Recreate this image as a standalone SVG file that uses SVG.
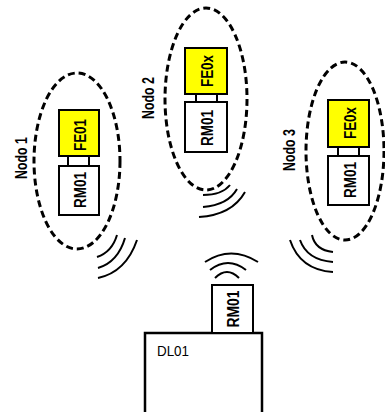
<svg xmlns="http://www.w3.org/2000/svg" width="385" height="412" viewBox="0 0 385 412">
<style>
.bg{fill:#fff}
.ell{fill:none;stroke:#000;stroke-width:3;stroke-dasharray:7 4}
.box{fill:#fff;stroke:#000;stroke-width:2}
.fe{fill:#ffff00;stroke:#000;stroke-width:2}
.wave{fill:none;stroke:#000;stroke-width:2}
.lbl{font-family:"Liberation Sans",Arial,sans-serif;font-weight:bold;font-size:16px;fill:#000;text-anchor:middle}
.dl{font-family:"Liberation Sans",Arial,sans-serif;font-size:15px;fill:#000}
</style>
<rect class="bg" width="385" height="412"/>
<g id="nodo1">
<ellipse class="ell" cx="77" cy="161" rx="43" ry="88"/>
<rect class="fe" x="59" y="110" width="40" height="46"/>
<rect class="box" x="68" y="156" width="21" height="10"/>
<rect class="box" x="59" y="166" width="40" height="49"/>
<text class="lbl" transform="translate(80,135) rotate(-90)" y="6" textLength="32" lengthAdjust="spacingAndGlyphs">FE01</text>
<text class="lbl" transform="translate(80,190) rotate(-90)" y="6" textLength="36" lengthAdjust="spacingAndGlyphs">RM01</text>
<text class="lbl" transform="translate(21,158) rotate(-90)" y="6" textLength="42" lengthAdjust="spacingAndGlyphs">Nodo 1</text>
</g>
<g id="nodo2">
<ellipse class="ell" cx="206" cy="99" rx="41" ry="91"/>
<rect class="fe" x="185" y="48" width="42" height="46"/>
<rect class="box" x="196" y="94" width="21" height="8"/>
<rect class="box" x="185" y="102" width="42" height="50"/>
<text class="lbl" transform="translate(207,71) rotate(-90)" y="6" textLength="32" lengthAdjust="spacingAndGlyphs">FE0x</text>
<text class="lbl" transform="translate(207,128) rotate(-90)" y="6" textLength="36" lengthAdjust="spacingAndGlyphs">RM01</text>
<text class="lbl" transform="translate(148,98) rotate(-90)" y="6" textLength="42" lengthAdjust="spacingAndGlyphs">Nodo 2</text>
</g>
<g id="nodo3">
<ellipse class="ell" cx="345" cy="151" rx="39" ry="89"/>
<rect class="fe" x="328" y="100" width="41" height="47"/>
<rect class="box" x="338" y="147" width="21" height="9"/>
<rect class="box" x="328" y="156" width="41" height="49"/>
<text class="lbl" transform="translate(350,123) rotate(-90)" y="6" textLength="32" lengthAdjust="spacingAndGlyphs">FE0x</text>
<text class="lbl" transform="translate(350,180) rotate(-90)" y="6" textLength="36" lengthAdjust="spacingAndGlyphs">RM01</text>
<text class="lbl" transform="translate(289,150) rotate(-90)" y="6" textLength="42" lengthAdjust="spacingAndGlyphs">Nodo 3</text>
</g>
<g id="dl01">
<rect class="box" x="145" y="333" width="117" height="100" style="stroke-width:2.5"/>
<rect class="box" x="212" y="285" width="41" height="48"/>
<text class="lbl" transform="translate(233,309) rotate(-90)" y="6" textLength="37" lengthAdjust="spacingAndGlyphs">RM01</text>
<text class="dl" x="157" y="356" textLength="32" lengthAdjust="spacingAndGlyphs">DL01</text>
</g>
<g id="connectors">
<path class="wave" d="M117,235 Q112,252 97,257"/>
<path class="wave" d="M125,238 Q118,262 98,268"/>
<path class="wave" d="M137,240 Q126,272 98,278"/>
<path class="wave" d="M230,185 Q222,195 203,195"/>
<path class="wave" d="M237,189 Q228,205 203,207"/>
<path class="wave" d="M245,192 Q232,215 199,217"/>
<path class="wave" d="M312,235 Q315,250 333,252"/>
<path class="wave" d="M300,240 Q307,260 333,262"/>
<path class="wave" d="M290,240 Q300,270 333,272"/>
<path class="wave" d="M215,278 Q227,266 239,278"/>
<path class="wave" d="M210,270 Q228,256 246,270"/>
<path class="wave" d="M205,262 Q231,245 258,262"/>
</g>
</svg>
